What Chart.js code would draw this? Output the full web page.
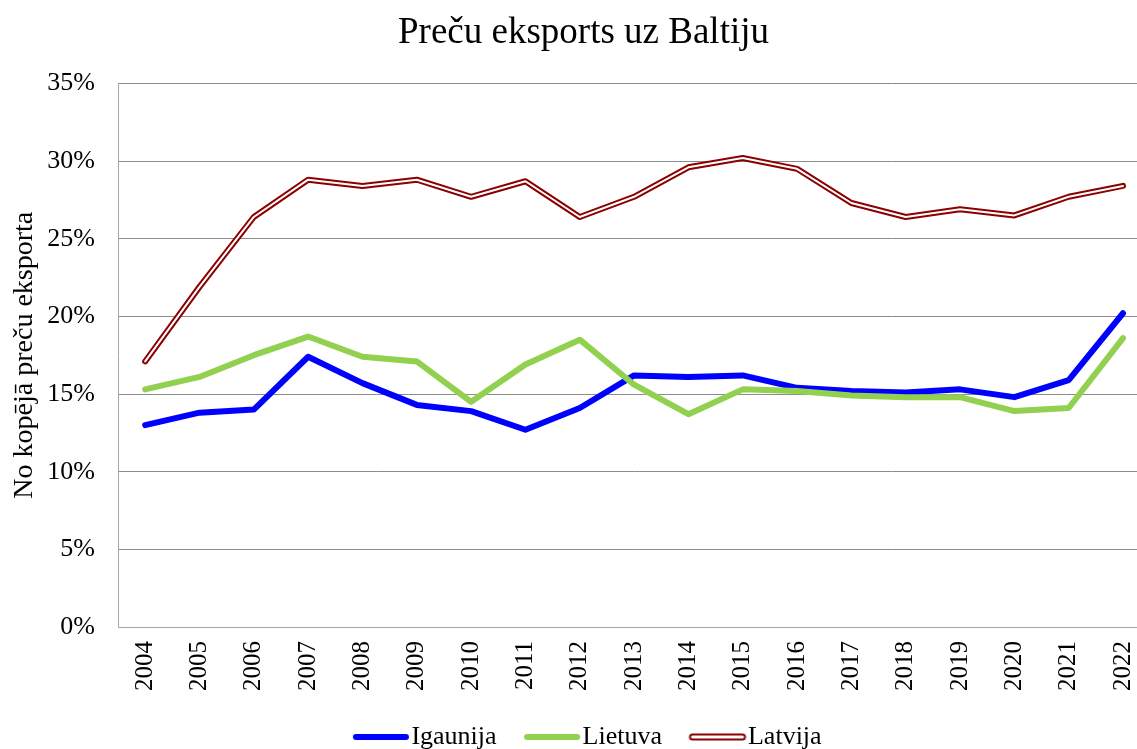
<!DOCTYPE html>
<html>
<head>
<meta charset="utf-8">
<script src="https://cdn.jsdelivr.net/npm/chart.js@4.4.1/dist/chart.umd.min.js"></script>
<style>
  html, body { margin: 0; padding: 0; background: #fff; overflow: hidden; }
  #wrap { width: 1167px; height: 760px; position: relative; }
</style>
</head>
<body>
<div id="wrap"><canvas id="c"></canvas></div>
<script>
// gadi (x ass)
const gadi = ['2004','2005','2006','2007','2008','2009','2010','2011','2012','2013',
              '2014','2015','2016','2017','2018','2019','2020','2021','2022'];

// daļa no kopējā preču eksporta, %
const igaunija = [13.0, 13.8, 14.0, 17.4, 15.7, 14.3, 13.9, 12.7, 14.1, 16.2,
                  16.1, 16.2, 15.4, 15.2, 15.1, 15.3, 14.8, 15.9, 20.2];
const lietuva  = [15.3, 16.1, 17.5, 18.7, 17.4, 17.1, 14.5, 16.9, 18.5, 15.6,
                  13.7, 15.3, 15.2, 14.9, 14.8, 14.8, 13.9, 14.1, 18.6];
const latvija  = [17.1, 21.9, 26.4, 28.8, 28.4, 28.8, 27.7, 28.7, 26.4, 27.7,
                  29.6, 30.2, 29.5, 27.3, 26.4, 26.9, 26.5, 27.7, 28.4];

const yTicks = [0, 5, 10, 15, 20, 25, 30, 35];

const fonts = "'Liberation Serif', 'Times New Roman', serif";

// mazie zīmējumi leģendai (līnija nobīdīta pa labi, tuvāk tekstam)
function legendLine(color, width, inner) {
  var cv = document.createElement('canvas');
  cv.width = 78; cv.height = 12;
  var g = cv.getContext('2d');
  g.lineCap = 'round';
  g.strokeStyle = color;
  g.lineWidth = width;
  g.beginPath(); g.moveTo(23, 6); g.lineTo(73, 6); g.stroke();
  if (inner) {
    g.strokeStyle = '#fff';
    g.lineWidth = inner;
    g.beginPath(); g.moveTo(23, 6); g.lineTo(73, 6); g.stroke();
  }
  return cv;
}

const ctx = document.getElementById('c').getContext('2d');
new Chart(ctx, {
  type: 'line',
  data: {
    labels: gadi,
    datasets: [
      {
        label: 'Igaunija', data: igaunija, order: 3,
        borderColor: '#0000ff', borderWidth: 6,
        pointStyle: legendLine('#0000ff', 6)
      },
      {
        label: 'Lietuva', data: lietuva, order: 2,
        borderColor: '#92d050', borderWidth: 6,
        pointStyle: legendLine('#92d050', 6)
      },
      {
        label: 'Latvija', data: latvija, order: 1,
        borderColor: '#8b0000', borderWidth: 6,
        pointStyle: legendLine('#8b0000', 7, 3)
      },
      {
        label: '_latvija_iekša', data: latvija, order: 0,
        borderColor: '#ffffff', borderWidth: 2
      }
    ]
  },
  options: {
    responsive: true,
    maintainAspectRatio: false,
    animation: false,
    events: [],
    layout: { padding: 0 },
    elements: {
      point: { radius: 0 },
      line: { tension: 0, borderCapStyle: 'round', borderJoinStyle: 'round' }
    },
    plugins: {
      title: {
        display: true,
        text: 'Preču eksports uz Baltiju',
        color: '#000',
        font: { family: fonts, size: 37, weight: 'normal' },
        padding: { top: 11, bottom: 28 }
      },
      legend: {
        position: 'bottom',
        labels: {
          usePointStyle: true,
          pointStyleWidth: 53,
          color: '#000',
          font: { family: fonts, size: 26 },
          padding: 20,
          filter: function(item) { return item.text.indexOf('_') !== 0; },
          sort: function(a, b) { return a.datasetIndex - b.datasetIndex; }
        }
      },
      tooltip: { enabled: false }
    },
    scales: {
      x: {
        offset: true,
        afterFit: function(scale) { scale.height = 77; },
        grid: { display: false, drawTicks: false },
        border: { color: '#a6a6a6' },
        ticks: {
          color: '#000',
          font: { family: fonts, size: 25 },
          maxRotation: 90, minRotation: 90,
          padding: 14,
          autoSkip: false
        }
      },
      y: {
        min: 0, max: 35,
        afterBuildTicks: function(scale) {
          scale.ticks = yTicks.map(v => ({ value: v }));
        },
        afterFit: function(scale) { scale.width = 118; },
        grid: { color: '#8c8c8c', drawTicks: false },
        border: { color: '#a6a6a6' },
        title: {
          display: true,
          text: 'No kopējā preču eksporta',
          color: '#000',
          font: { family: fonts, size: 28 },
          padding: { top: 8, bottom: 0 }
        },
        ticks: {
          color: '#000',
          font: { family: fonts, size: 26 },
          padding: 23,
          callback: function(value) { return value + '%'; }
        }
      }
    }
  }
});
</script>
</body>
</html>
